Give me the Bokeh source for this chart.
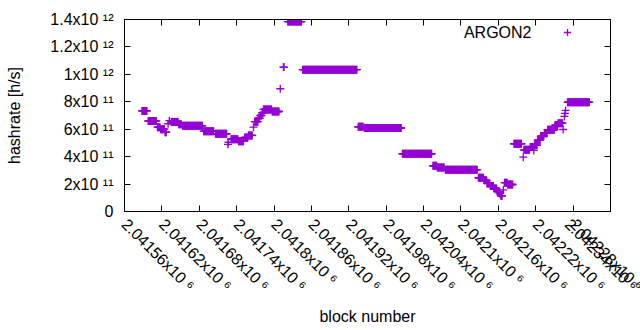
import math
from bokeh.plotting import figure
from bokeh.models import (ColumnDataSource, FixedTicker, LinearAxis, Range1d, Label,
                          Legend, LegendItem, CustomLabelingPolicy)
from bokeh.embed import file_html
from bokeh.resources import INLINE

# ---- data: runs of consecutive blocks with the same estimated hashrate ----
run_start = [2041588, 2041598, 2041613, 2041618, 2041625, 2041630, 2041632, 2041635,
             2041647, 2041653, 2041687, 2041706, 2041726, 2041727, 2041731, 2041743,
             2041753, 2041759, 2041767, 2041769, 2041775, 2041778, 2041781, 2041783,
             2041797, 2041810, 2041815, 2041822, 2041846, 2041935, 2041945, 2042006,
             2042055, 2042062, 2042075, 2042128, 2042137, 2042142, 2042147, 2042153,
             2042158, 2042162, 2042164, 2042168, 2042170, 2042175, 2042185, 2042200,
             2042201, 2042211, 2042217, 2042218, 2042223, 2042228, 2042234, 2042239,
             2042251, 2042256, 2042264, 2042266, 2042267, 2042268, 2042271]
run_end = [2041596, 2041611, 2041617, 2041624, 2041627, 2041630, 2041632, 2041646,
           2041651, 2041685, 2041703, 2041724, 2041726, 2041727, 2041742, 2041751,
           2041758, 2041765, 2041767, 2041774, 2041777, 2041780, 2041782, 2041796,
           2041808, 2041810, 2041816, 2041844, 2041933, 2041943, 2042004, 2042053,
           2042061, 2042073, 2042126, 2042136, 2042141, 2042146, 2042152, 2042157,
           2042161, 2042163, 2042166, 2042168, 2042174, 2042183, 2042197, 2042200,
           2042210, 2042216, 2042217, 2042222, 2042227, 2042233, 2042238, 2042250,
           2042255, 2042263, 2042264, 2042266, 2042267, 2042268, 2042306]
run_rate = [0.733e12, 0.660e12, 0.615e12, 0.600e12, 0.578e12, 0.640e12, 0.662e12, 0.652e12,
            0.636e12, 0.625e12, 0.586e12, 0.567e12, 0.490e12, 0.505e12, 0.527e12, 0.512e12,
            0.540e12, 0.555e12, 0.615e12, 0.655e12, 0.680e12, 0.700e12, 0.720e12, 0.744e12,
            0.729e12, 0.895e12, 1.053e12, 1.385e12, 1.034e12, 0.618e12, 0.609e12, 0.421e12,
            0.333e12, 0.321e12, 0.304e12, 0.246e12, 0.227e12, 0.205e12, 0.186e12, 0.168e12,
            0.147e12, 0.132e12, 0.115e12, 0.158e12, 0.210e12, 0.197e12, 0.494e12, 0.396e12,
            0.450e12, 0.470e12, 0.445e12, 0.483e12, 0.520e12, 0.550e12, 0.570e12, 0.596e12,
            0.630e12, 0.644e12, 0.598e12, 0.693e12, 0.715e12, 0.737e12, 0.797e12]

series_name = "ARGON2"

x_ticks = [2041560, 2041620, 2041680, 2041740, 2041800, 2041860, 2041920,
           2041980, 2042040, 2042100, 2042160, 2042220, 2042280, 2042340]
x_tick_labels = ["2.04156x10 \u2076", "2.04162x10 \u2076", "2.04168x10 \u2076",
                 "2.04174x10 \u2076", "2.0418x10 \u2076", "2.04186x10 \u2076",
                 "2.04192x10 \u2076", "2.04198x10 \u2076", "2.04204x10 \u2076",
                 "2.0421x10 \u2076", "2.04216x10 \u2076", "2.04222x10 \u2076",
                 "2.04228x10 \u2076", "2.04234x10 \u2076"]
y_ticks = [0, 200000000000, 400000000000, 600000000000, 800000000000,
           1000000000000, 1200000000000, 1400000000000]
y_tick_labels = ["0", "2x10 \u00b9\u00b9", "4x10 \u00b9\u00b9", "6x10 \u00b9\u00b9",
                 "8x10 \u00b9\u00b9", "1x10 \u00b9\u00b2", "1.2x10 \u00b9\u00b2",
                 "1.4x10 \u00b9\u00b2"]

# one point per block of each run
blocks, rates = [], []
for s, e, r in zip(run_start, run_end, run_rate):
    for b in range(s, e + 1):
        blocks.append(b)
        rates.append(r)
src = ColumnDataSource(dict(block=blocks, rate=rates))

FONT = "Liberation Sans"
FS = "16px"
PURPLE = "#9400D3"

p = figure(width=640, height=330, output_backend="svg", toolbar_location=None,
           x_range=Range1d(x_ticks[0], x_ticks[-1]), y_range=Range1d(y_ticks[0], y_ticks[-1]),
           min_border_left=124, min_border_right=30, min_border_top=19, min_border_bottom=119,
           x_axis_label="block number", y_axis_label="hashrate [h/s]")
p.background_fill_color = "white"
p.border_fill_color = "white"
p.outline_line_color = "black"
p.xgrid.visible = False
p.ygrid.visible = False

r = p.scatter("block", "rate", source=src, marker="cross", size=8,
              line_color=PURPLE, line_width=1.3)

def style_axis(ax):
    ax.major_tick_in = 6
    ax.major_tick_out = 0
    ax.minor_tick_line_color = None
    ax.axis_line_color = "black"
    ax.major_tick_line_color = "black"
    ax.major_label_text_font = FONT
    ax.major_label_text_font_size = FS
    ax.major_label_text_color = "black"
    ax.axis_label_text_font = FONT
    ax.axis_label_text_font_size = FS
    ax.axis_label_text_font_style = "normal"
    ax.axis_label_text_color = "black"

xa = p.xaxis[0]
xa.ticker = FixedTicker(ticks=x_ticks)
xa.major_label_overrides = dict(zip(x_ticks, x_tick_labels))
xa.major_label_orientation = -math.pi / 4
style_axis(xa)
xa.major_label_standoff = 10
xa.axis_label_standoff = 5

ya = p.yaxis[0]
ya.ticker = FixedTicker(ticks=y_ticks)
ya.major_label_overrides = dict(zip(y_ticks, y_tick_labels))
style_axis(ya)
ya.major_label_standoff = 11
ya.axis_label_standoff = 24

# mirrored tick marks on the top and right border (no labels)
no_labels = CustomLabelingPolicy(code="return new Set()")
top = LinearAxis(ticker=FixedTicker(ticks=x_ticks), major_label_policy=no_labels,
                 major_label_overrides={t: "" for t in x_ticks})
right = LinearAxis(ticker=FixedTicker(ticks=y_ticks), major_label_policy=no_labels,
                   major_label_overrides={t: "" for t in y_ticks})
for ax in (top, right):
    style_axis(ax)
    ax.major_label_standoff = 0
p.add_layout(top, "above")
p.add_layout(right, "right")

# key (gnuplot style): title text on the left, sample point on the right
legend = Legend(items=[LegendItem(label=" ", renderers=[r])], location=(434, 170),
                margin=0, padding=0, spacing=0, glyph_width=18, glyph_height=18,
                label_standoff=0, label_text_font_size="1px",
                border_line_alpha=0, background_fill_alpha=0)
p.add_layout(legend, "center")
p.add_layout(Label(x=407, y=179, x_units="screen", y_units="screen", text=series_name,
                   text_align="right", text_baseline="middle", text_font=FONT,
                   text_font_size=FS, text_color="black"))

open("out.html", "w").write(file_html(p, INLINE))
